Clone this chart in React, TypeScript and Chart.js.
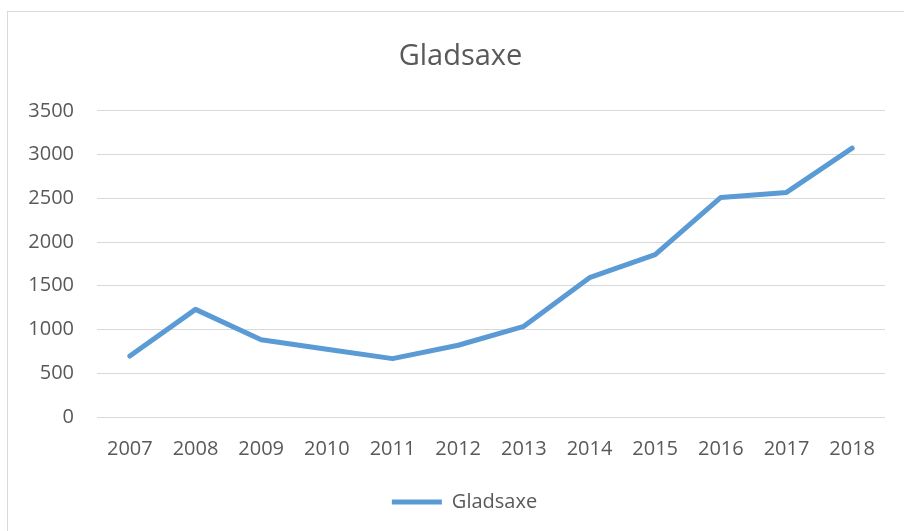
import React, { useEffect, useRef } from "react";
import { Chart, registerables } from "chart.js";

Chart.register(...registerables);

const years = ["2007", "2008", "2009", "2010", "2011", "2012", "2013", "2014", "2015", "2016", "2017", "2018"];
const gladsaxe = [697, 1230, 884, 774, 667, 820, 1036, 1592, 1855, 2510, 2567, 3073];
const seriesName = "Gladsaxe";
const titleText = "Gladsaxe";

const FONT = "'Open Sans', 'Noto Sans', sans-serif";
const TEXT = "#595959";

// shifts title / legend horizontally to match the reference's centring
const shiftPlugin = {
  id: "shiftBlocks",
  afterLayout(chart: any) {
    const t = chart.titleBlock;
    if (t) {
      t.left += 8;
      t.right += 8;
    }
    const l = chart.legend;
    if (l) {
      l.left += 12;
      l.right += 12;
    }
  },
};

export default function App() {
  const ref = useRef<HTMLCanvasElement | null>(null);

  useEffect(() => {
    if (!ref.current) return;
    const chart = new Chart(ref.current, {
      type: "line",
      data: {
        labels: years,
        datasets: [
          {
            label: seriesName,
            data: gladsaxe,
            borderColor: "#5B9BD5",
            backgroundColor: "#5B9BD5",
            borderWidth: 5,
            borderCapStyle: "round",
            borderJoinStyle: "round",
            pointRadius: 0,
            pointHoverRadius: 0,
            tension: 0,
            fill: false,
          },
        ],
      },
      options: {
        responsive: false,
        animation: false,
        layout: { padding: { left: 20, right: 19, top: 0, bottom: 9 } },
        plugins: {
          title: {
            display: true,
            text: titleText,
            color: TEXT,
            font: { family: FONT, size: 29, weight: "normal" },
            padding: { top: 39, bottom: 37 },
          },
          legend: {
            display: true,
            position: "bottom",
            labels: {
              usePointStyle: true,
              pointStyle: "line",
              pointStyleWidth: 50,
              color: TEXT,
              font: { family: FONT, size: 20 },
              padding: 31,
            },
          },
          tooltip: { enabled: false },
        },
        scales: {
          x: {
            offset: true,
            grid: { display: false, drawTicks: false },
            border: { display: false },
            ticks: {
              color: TEXT,
              font: { family: FONT, size: 20 },
              padding: 20,
              maxRotation: 0,
            },
            afterFit: (s: any) => {
              s.height = 44;
            },
          },
          y: {
            min: 0,
            max: 3500,
            grid: { color: "#D9D9D9", lineWidth: 1, drawTicks: false },
            border: { display: false },
            ticks: {
              stepSize: 500,
              color: TEXT,
              font: { family: FONT, size: 20 },
              padding: 23,
              callback: (v: any) => String(v),
            },
            afterFit: (s: any) => {
              s.width = 77;
            },
          },
        },
      },
      plugins: [shiftPlugin],
    });
    return () => chart.destroy();
  }, []);

  return (
    <div style={{ position: "relative", width: 904, height: 531, overflow: "hidden" }}>
      <style>{`body{margin:0;overflow:hidden}`}</style>
      <div
        style={{
          position: "absolute",
          left: 7,
          top: 11,
          width: 1000,
          height: 700,
          border: "1px solid #D9D9D9",
        }}
      />
      <canvas ref={ref} width={904} height={531} style={{ position: "absolute", left: 0, top: 0 }} />
    </div>
  );
}
